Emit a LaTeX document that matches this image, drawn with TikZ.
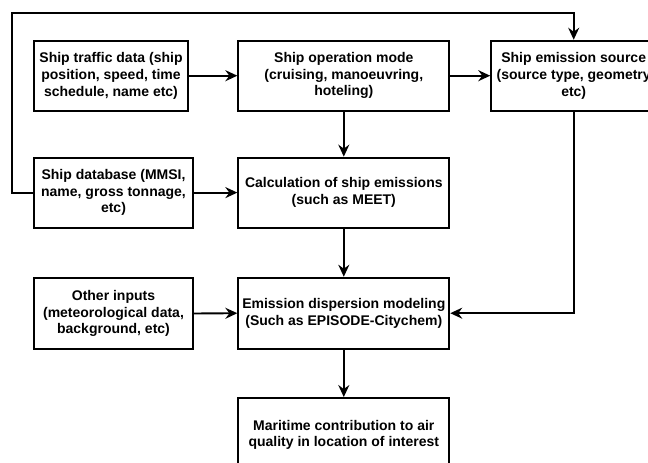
\documentclass[tikz,border=0pt]{standalone}
\usepackage{fontspec}
\setmainfont{Liberation Sans}
\usetikzlibrary{arrows.meta}
\begin{document}
\begin{tikzpicture}[x=1pt,y=-1pt,
  box/.style={draw, line width=1.9pt, align=center, inner sep=2pt,
    font=\bfseries\fontsize{14}{16.7}\selectfont},
  conn/.style={line width=1.9pt},
  arr/.style={conn, -{Stealth[length=12pt,width=11pt,inset=4pt]}}]
\useasboundingbox (0,0) rectangle (648,463);
\clip (0,0) rectangle (648,463);
\node[box, minimum width=153.4pt, minimum height=70pt] (traffic) at (111,75.7)
  {Ship traffic data (ship\\position, speed, time\\schedule, name etc)};
\node[box, minimum width=211pt, minimum height=70pt] (mode) at (343.8,75.7)
  {Ship operation mode\\(cruising, manoeuvring,\\hoteling)};
\node[box, minimum width=165pt, minimum height=70pt] (source) at (573.7,75.7)
  {Ship emission source\\(source type, geometry\\etc)};
\node[box, minimum width=158.4pt, minimum height=70pt] (db) at (113.5,192.6)
  {Ship database (MMSI,\\name, gross tonnage,\\etc)};
\node[box, minimum width=211pt, minimum height=70pt] (calc) at (343.8,192.6)
  {Calculation of ship emissions\\(such as MEET)};
\node[box, minimum width=158.4pt, minimum height=70.4pt] (other) at (113.5,313.5)
  {Other inputs\\(meteorological data,\\background, etc)};
\node[box, minimum width=211pt, minimum height=71pt] (disp) at (343.8,313.2)
  {Emission dispersion modeling\\(Such as EPISODE-Citychem)};
\node[box, minimum width=211pt, minimum height=74pt] (result) at (343.8,435)
  {Maritime contribution to air\\quality in location of interest};
\coordinate (c1) at (11.7,192.6);
\coordinate (c2) at (11.7,12.7);
\coordinate (c3) at (573.7,12.7);
\coordinate (c4) at (573.7,313.2);
\draw[arr] (traffic.east) -- (mode.west);
\draw[arr] (mode.east) -- (source.west);
\draw[arr] (mode.south) -- (calc.north);
\draw[arr] (db.west) -- (c1) -- (c2) -- (c3) -- (source.north);
\draw[arr] (db.east) -- (calc.west);
\draw[arr] (calc.south) -- (disp.north);
\draw[arr] (source.south) -- (c4) -- (disp.east);
\draw[arr] (other.east) -- (disp.west);
\draw[arr] (disp.south) -- (result.north);
\end{tikzpicture}
\end{document}
